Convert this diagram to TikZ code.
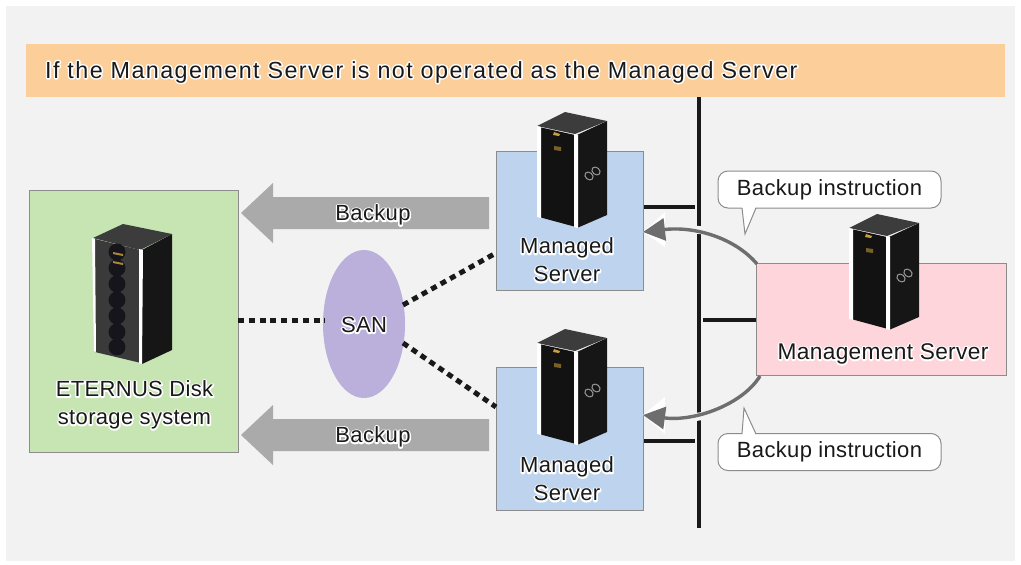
\documentclass[tikz,border=0pt]{standalone}
\usepackage{fontspec}
\setmainfont{Liberation Sans}[LetterSpace=1.5]
\newfontfamily\titlefont{Liberation Sans}[LetterSpace=6.2]
\usetikzlibrary{arrows.meta,shapes.geometric}
\definecolor{panelbg}{HTML}{F2F2F2}
\definecolor{barbg}{HTML}{FCCE9A}
\definecolor{greenbg}{HTML}{C6E5B3}
\definecolor{bluebg}{HTML}{BDD3EE}
\definecolor{pinkbg}{HTML}{FFD5DC}
\definecolor{sanbg}{HTML}{BBB0DC}
\definecolor{flowgray}{HTML}{AAAAAA}
\definecolor{curvegray}{HTML}{6E6E6E}
\definecolor{edgegray}{HTML}{8C8C8C}
\definecolor{rackfront}{HTML}{121212}
\definecolor{racktop}{HTML}{3C3C3C}
\definecolor{rackside}{HTML}{161616}
\definecolor{rackslate}{HTML}{3A3A3A}
\definecolor{rackcore}{HTML}{15151B}
\definecolor{led}{HTML}{C9A040}
\newcommand{\halo}[1]{\leavevmode\rlap{\special{pdf:code 2 Tr 1 j 1 1 1 RG 3 w}\textcolor{white}{#1}\special{pdf:code 0 Tr 0 j 1 w}}#1}
\tikzset{
  x=1pt,y=-1pt,
  lbl/.style={font=\fontsize{22}{28}\selectfont,align=center,text=black!90},
  zone/.style={draw=edgegray,line width=1pt,anchor=north west,inner sep=0pt},
  bus/.style={line width=3.6pt,black!90},
  dots/.style={line width=5pt,black!90,dash pattern=on 6pt off 4.8pt},
  flow/.style={fill=flowgray,draw=none},
  order/.style={line width=3.4pt,curvegray,-{Triangle[length=22pt,width=22pt]},shorten >=0pt},
  orderhalo/.style={line width=8pt,panelbg},
  bubble/.style={draw=edgegray,line width=1pt,fill=white,rounded corners=10pt,minimum width=223pt,minimum height=37pt,inner sep=0pt,lbl},
  tailfill/.style={fill=white,draw=none},
  pics/rack/.style={code={
    \fill[rackfront] (2,15) -- (38,23) -- (39,115) -- (2,105) -- cycle;
    \fill[rackside] (40,23) -- (70,9) -- (70,103) -- (40,116) -- cycle;
    \fill[racktop] (0,14) -- (28,0) -- (70,9) -- (38,22) -- cycle;
    \fill[white] (0,14) -- (4,15) -- (4,106) -- (0,105) -- cycle;
    \fill[white] (37,22) -- (41,23) -- (41,116) -- (37,115) -- cycle;
    \fill[led] (17,20) -- (23,22) -- (22,24) -- (16,23) -- cycle;
    \fill[led!60!black] (17,34) -- (24,35) -- (24,39) -- (17,38) -- cycle;
    \draw[gray!80,line width=1pt,rotate around={-40:(52,64)}] (52,64) ellipse (4.5pt and 3.5pt);
    \draw[gray!80,line width=1pt,rotate around={-40:(59,59)}] (59,59) ellipse (4.5pt and 3.5pt);
  }},
  pics/storagerack/.style={code={
    \fill[rackslate] (2,15) -- (47,26) -- (48,139) -- (2,128) -- cycle;
    \fill[rackside] (49,26) -- (79,10) -- (79,126) -- (49,140) -- cycle;
    \fill[racktop] (0,14) -- (30,0) -- (79,10) -- (47,26) -- cycle;
    \fill[white] (-1,14) -- (2,15) -- (3,128) -- (1,127) -- cycle;
    \fill[white] (46,25) -- (50,26) -- (49,140) -- (46,139) -- cycle;
    \foreach \yy in {28,44,60,76,92,108,123}
      \fill[rackcore] (24,\yy) circle (8.5pt);
    \fill[led!85!black] (20,28) -- (30,30) -- (30,32) -- (20,30) -- cycle;
    \fill[led!85!black] (20,37) -- (30,39) -- (30,41) -- (20,39) -- cycle;
  }},
}
\begin{document}
\begin{tikzpicture}
\useasboundingbox (0,0) rectangle (1021,565);
\fill[white] (0,0) rectangle (1021,565);
\fill[panelbg] (6,6) rectangle (1015,561);
\fill[barbg] (26,44) rectangle (1005,97);
\node[font=\titlefont\fontsize{23.3}{28}\selectfont,text=black!90,anchor=west,inner sep=0pt] (title) at (45,72) {\halo{If the Management Server is not operated as the Managed Server}};

% zones
\node[zone,fill=greenbg,minimum width=209pt,minimum height=262pt] (storage) at (29,190) {};
\node[zone,fill=bluebg,minimum width=147pt,minimum height=139pt] (ms1) at (496,151) {};
\node[zone,fill=bluebg,minimum width=147pt,minimum height=143pt] (ms2) at (496,367) {};
\node[zone,fill=pinkbg,minimum width=250pt,minimum height=112pt] (mgr) at (756,263) {};
\node[fill=sanbg,ellipse,minimum width=82pt,minimum height=148pt,inner sep=0pt] (san) at (364,324) {};
\node[lbl] at (364,325) {\halo{SAN}};

% LAN bus
\coordinate (bustop) at (699,97);
\coordinate (busbot) at (699,528);
\draw[bus] (bustop) -- (busbot);
\coordinate (s1a) at (644,207); \coordinate (s1b) at (695,207);
\coordinate (s2a) at (644,441); \coordinate (s2b) at (695,441);
\coordinate (s3a) at (703,320); \coordinate (s3b) at (756,320);
\draw[bus] (s1a) -- (s1b);
\draw[bus] (s2a) -- (s2b);
\draw[bus] (s3a) -- (s3b);

% SAN links
\coordinate (d1a) at (238,320); \coordinate (d1b) at (325,320);
\coordinate (d2a) at (403,305); \coordinate (d2b) at (496,253);
\coordinate (d3a) at (403,343); \coordinate (d3b) at (496,407);
\draw[dots] (d1a) -- (d1b);
\draw[dots] (d2a) -- (d2b);
\draw[dots] (d3a) -- (d3b);

% backup flow arrows
\fill[flow] (241,213) -- (273,183) -- (273,197) -- (489,197) -- (489,229) -- (273,229) -- (273,243) -- cycle;
\fill[flow] (241,435) -- (273,405) -- (273,419) -- (489,419) -- (489,451) -- (273,451) -- (273,465) -- cycle;
\node[lbl] (b1) at (373,215) {\halo{Backup}};
\node[lbl] (b2) at (373,437) {\halo{Backup}};

% racks
\pic at (537,112) {rack};
\pic at (537,329) {rack};
\pic at (849,214) {rack};
\pic at (93,224) {storagerack};

% labels
\node[lbl] (ms1t) at (567,260) {\halo{Managed}\\\halo{Server}};
\node[lbl] (ms2t) at (567,479) {\halo{Managed}\\\halo{Server}};
\node[lbl,font=\fontsize{22.7}{28}\selectfont] (mgrt) at (883,354) {\halo{Management Server}};
\node[lbl] (stt) at (134.5,405) {\halo{ETERNUS Disk}\\\halo{storage system}};

% instruction arrows
\coordinate (c1s) at (757,264); \coordinate (c1e) at (643,232);
\coordinate (c2s) at (760,376); \coordinate (c2e) at (643,415);
\fill[white] (643,232) -- (665,212) -- (665,247) -- cycle;
\fill[white] (643,415) -- (665,397) -- (665,434) -- cycle;
\draw[orderhalo] (690,229) -- (708,231);
\draw[orderhalo] (690,418) -- (708,415);
\draw[order] (c1s) .. controls (735,238) and (695,226) .. (c1e);
\draw[order] (c2s) .. controls (743,404) and (695,422) .. (c2e);

% callouts
\node[bubble] (cb1) at (829.5,189.5) {\halo{Backup instruction}};
\node[bubble] (cb2) at (829.5,452) {\halo{Backup instruction}};
\coordinate (t1) at (745,234); \coordinate (t2) at (744,408);
\path[tailfill] (742,206) -- (t1) -- (756,206) -- cycle;
\path[tailfill] (742,436) -- (t2) -- (756,436) -- cycle;
\draw[edgegray,line width=1pt] (742,208) -- (t1) -- (756,208);
\draw[edgegray,line width=1pt] (742,434) -- (t2) -- (756,434);
\end{tikzpicture}
\end{document}
